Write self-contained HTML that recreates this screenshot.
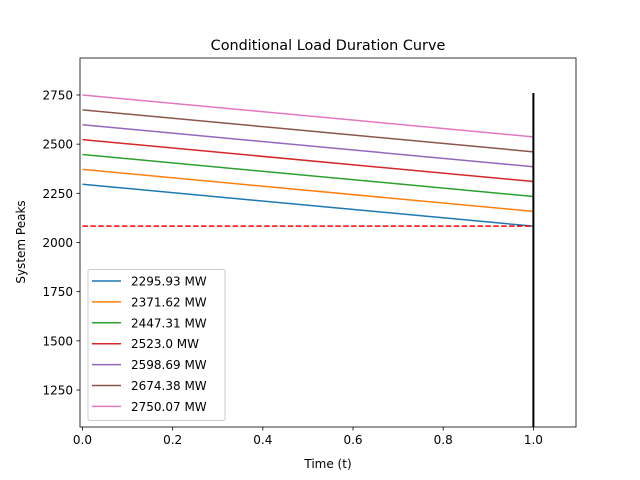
<!DOCTYPE html>
<html><head><meta charset="utf-8"><style>
body{margin:0;background:#fff}
svg{display:block;font-family:"DejaVu Sans","Liberation Sans",sans-serif}
</style></head><body>
<svg id="c" width="640" height="480"></svg>
<script>
const series = [2295.93, 2371.62, 2447.31, 2523.0, 2598.69, 2674.38, 2750.07];
const endValues = [2083, 2158, 2234, 2310, 2385, 2461, 2537];
const labels = ["2295.93 MW","2371.62 MW","2447.31 MW","2523.0 MW","2598.69 MW","2674.38 MW","2750.07 MW"];
const colors = ["#1f77b4","#ff7f0e","#2ca02c","#d62728","#9467bd","#8c564b","#e377c2"];
const threshold = 2083;
const xTicks = [0.0,0.2,0.4,0.6,0.8,1.0];
const yTicks = [1250,1500,1750,2000,2250,2500,2750];
const L=80,R=576,T=58,B=427;
const xMin=-0.0055,xMax=1.0945,yMin=1062,yMax=2938;
const X=v=>L+(v-xMin)/(xMax-xMin)*(R-L);
const Y=v=>B-(v-yMin)/(yMax-yMin)*(B-T);
const svg=document.getElementById('c');
const NS='http://www.w3.org/2000/svg';
function mk(tag,attrs,parent){const e=document.createElementNS(NS,tag);for(const k in attrs)e.setAttribute(k,attrs[k]);(parent||svg).appendChild(e);return e;}
series.forEach((s,i)=>{
  const l=mk('line',{x1:X(0),y1:Y(s),x2:X(1),y2:Y(endValues[i]),stroke:colors[i],'stroke-width':1.5});
  
  
});
const th=mk('line',{x1:X(0),y1:Y(threshold),x2:X(1),y2:Y(threshold),stroke:'#ff0000','stroke-width':1.5,'stroke-dasharray':'5.5,2.4'});


const vl=mk('line',{x1:X(1),y1:Y(yMin),x2:X(1),y2:Y(2760),stroke:'#000','stroke-width':2});


const fr=mk('rect',{x:L,y:T,width:R-L,height:B-T,fill:'none',stroke:'#000','stroke-width':0.8});


xTicks.forEach(t=>{
  mk('line',{x1:X(t),y1:B,x2:X(t),y2:B+3.5,stroke:'#000','stroke-width':0.8});
  const tx=mk('text',{x:X(t),y:B+17,'font-size':12,'text-anchor':'middle'});tx.textContent=t.toFixed(1);
  
  
});
yTicks.forEach(t=>{
  mk('line',{x1:L,y1:Y(t),x2:L-3.5,y2:Y(t),stroke:'#000','stroke-width':0.8});
  const tx=mk('text',{x:L-7,y:Y(t)+4.5,'font-size':12,'text-anchor':'end'});tx.textContent=t;
  
  
});
const ti=mk('text',{x:328,y:50,'font-size':14.4,'text-anchor':'middle'});ti.textContent='Conditional Load Duration Curve';


const xl=mk('text',{x:328,y:468,'font-size':12,'text-anchor':'middle'});xl.textContent='Time (t)';


const yl=mk('text',{x:0,y:0,'font-size':12,'text-anchor':'middle',transform:'translate(25,242) rotate(-90)'});yl.textContent='System Peaks';


const lg=mk('g',{});


mk('rect',{x:88,y:269.5,width:137,height:151,rx:2,fill:'#fff',stroke:'#ccc','stroke-width':1},lg);
labels.forEach((lab,i)=>{
  const y=281+i*20.9;
  mk('line',{x1:92,y1:y,x2:121,y2:y,stroke:colors[i],'stroke-width':1.5},lg);
  const t=mk('text',{x:131,y:y+4.5,'font-size':12},lg);t.textContent=lab;
  
  
});
</script>
</body></html>
